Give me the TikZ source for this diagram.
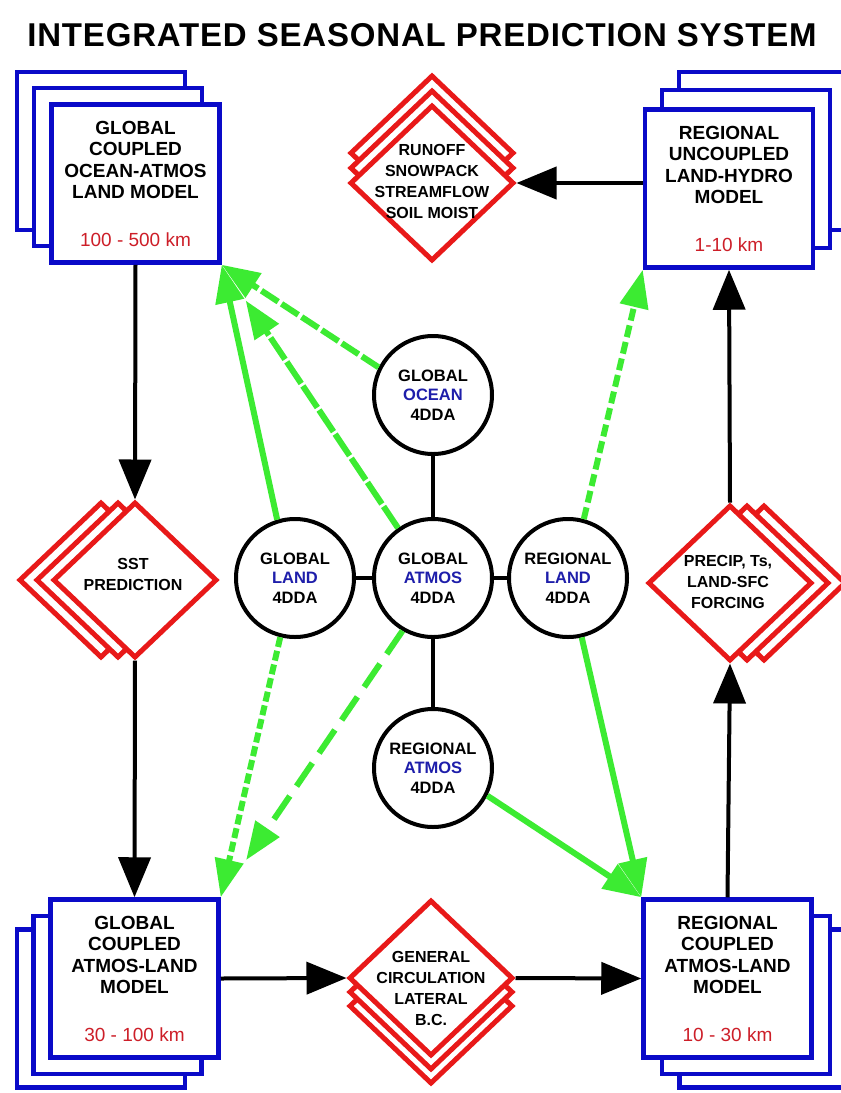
\documentclass[tikz,border=0pt]{standalone}
\usepackage{fontspec}
\setmainfont{Liberation Sans}
\usetikzlibrary{shapes.geometric,arrows.meta}
\definecolor{boxblue}{RGB}{10,10,200}
\definecolor{dred}{RGB}{232,25,25}
\definecolor{kmred}{RGB}{205,30,40}
\definecolor{tblue}{RGB}{30,30,170}
\definecolor{lgreen}{RGB}{60,235,50}
\begin{document}
\begin{tikzpicture}[x=1pt,y=-1pt,
 boxs/.style={draw=boxblue,line width=4.5pt,fill=white,minimum width=168pt,minimum height=158pt,inner sep=0pt,align=center,font=\fontsize{19}{21.5}\selectfont\bfseries},
 dia/.style={diamond,draw=dred,line width=5pt,fill=white,minimum width=164pt,minimum height=156pt,inner sep=0pt},
 dtext/.style={align=center,font=\fontsize{16}{21}\selectfont\bfseries,inner sep=0pt},
 circ/.style={circle,draw=black,line width=4pt,fill=white,minimum size=118pt,inner sep=0pt,align=center,font=\fontsize{16.5}{19.5}\selectfont\bfseries},
 blk/.style={line width=4pt,-{Triangle[length=40pt,width=32pt]}},
 grn/.style={draw=lgreen,line width=6pt,-{Triangle[length=38pt,width=28pt]}},
 con/.style={line width=4pt}
]
\useasboundingbox (0,0) rectangle (841,1093);
\fill[white] (0,0) rectangle (841,1093);

\node[font=\fontsize{33}{36}\selectfont\bfseries\addfontfeature{LetterSpace=2.5}] (title) at (422,35) {INTEGRATED SEASONAL PREDICTION SYSTEM};

% boxes
\node[boxs] (tl3) at (101,151) {};
\node[boxs] (tl2) at (118,167) {};
\node[boxs] (tl) at (135.5,183.5) {GLOBAL\\COUPLED\\OCEAN-ATMOS\\LAND MODEL\\[26pt]\textcolor{kmred}{\mdseries 100 - 500 km}};

\node[boxs] (tr3) at (763,151) {};
\node[boxs] (tr2) at (746,169) {};
\node[boxs] (tr) at (729,188.5) {REGIONAL\\UNCOUPLED\\LAND-HYDRO\\MODEL\\[26pt]\textcolor{kmred}{\mdseries 1-10 km}};

\node[boxs] (bl3) at (101,1008.5) {};
\node[boxs] (bl2) at (117.5,995) {};
\node[boxs] (bl) at (134.5,978.5) {GLOBAL\\COUPLED\\ATMOS-LAND\\MODEL\\[26pt]\textcolor{kmred}{\mdseries 30 - 100 km}};

\node[boxs] (br3) at (763.5,1008.5) {};
\node[boxs] (br2) at (746,995) {};
\node[boxs] (br) at (727.5,978.5) {REGIONAL\\COUPLED\\ATMOS-LAND\\MODEL\\[26pt]\textcolor{kmred}{\mdseries 10 - 30 km}};

% diamonds
\node[dia] (ro3) at (432,153) {};
\node[dia] (ro2) at (432,168) {};
\node[dia] (ro) at (432,183) {};
\node[dtext] (rot) at (432,181) {RUNOFF\\SNOWPACK\\STREAMFLOW\\SOIL MOIST};

\node[dia] (sst3) at (101,580) {};
\node[dia] (sst2) at (118,580) {};
\node[dia] (sst) at (135,580) {};
\node[dtext] (sstt) at (133,574) {SST\\PREDICTION};

\node[dia] (pr3) at (764,583) {};
\node[dia] (pr2) at (747,583) {};
\node[dia] (pr) at (730,583) {};
\node[dtext] (prt) at (728,582) {PRECIP, Ts,\\LAND-SFC\\FORCING};

\node[dia] (gc3) at (431,1006) {};
\node[dia] (gc2) at (431,992) {};
\node[dia] (gc) at (431,978) {};
\node[dtext] (gct) at (431,988) {GENERAL\\CIRCULATION\\LATERAL\\B.C.};

% circles
\node[circ] (goc) at (433,395) {GLOBAL\\\textcolor{tblue}{OCEAN}\\4DDA};
\node[circ] (gland) at (295,578) {GLOBAL\\\textcolor{tblue}{LAND}\\4DDA};
\node[circ] (gatm) at (433,578) {GLOBAL\\\textcolor{tblue}{ATMOS}\\4DDA};
\node[circ] (rland) at (568,578) {REGIONAL\\\textcolor{tblue}{LAND}\\4DDA};
\node[circ] (ratm) at (433,768) {REGIONAL\\\textcolor{tblue}{ATMOS}\\4DDA};

% black connectors between circles
\draw[con] (goc) -- (gatm);
\draw[con] (gland) -- (gatm);
\draw[con] (gatm) -- (rland);
\draw[con] (gatm) -- (ratm);

% black arrows
\draw[blk] (tl.south) -- (sst.north);
\draw[blk] (sst.south) -- (bl.north);
\draw[blk] (bl.east) -- (gc.west);
\draw[blk] (gc.east) -- (br.west);
\draw[blk] (br.north) -- (pr.south);
\draw[blk] (pr.north) -- (tr.south);
\draw[blk] (tr.west |- ro.east) -- (ro.east);

% green arrows
\draw[grn,dash pattern=on 20pt off 4pt] (goc.153) -- (tl.south east);
\draw[grn] (gland.107) -- (tl.south east);
\draw[grn,dash pattern=on 26pt off 3pt,shorten >=43pt] (gatm.125) -- (tl.south east);
\draw[grn,dash pattern=on 12pt off 5pt] (rland.75) -- (tr.south west);
\draw[grn,dash pattern=on 10pt off 4pt] (gland.256) -- (bl.north east);
\draw[grn,dash pattern=on 28pt off 12pt,shorten >=45pt] (gatm.240) -- (bl.north east);
\draw[grn] (ratm.333) -- (br.north west);
\draw[grn] (rland.283) -- (br.north west);
\end{tikzpicture}
\end{document}
